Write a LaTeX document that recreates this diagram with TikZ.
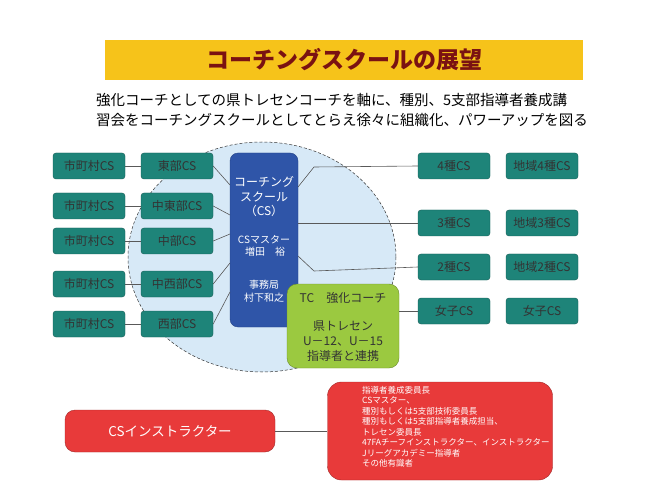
\documentclass[tikz,border=0pt]{standalone}
\usepackage{fontspec}
\setmainfont{Noto Sans CJK JP}
\definecolor{teal1}{HTML}{1E8479}
\definecolor{blue1}{HTML}{2F55A8}
\definecolor{green1}{HTML}{9BC940}
\definecolor{red1}{HTML}{E83A3A}
\definecolor{yel}{HTML}{F6C31A}
\definecolor{circ}{HTML}{D7E9F7}
\definecolor{ttl}{HTML}{7A1212}
\definecolor{txt}{HTML}{333333}
\begin{document}
\begin{tikzpicture}[x=1pt,y=-1pt,
 tb/.style={draw=teal1!70!black,fill=teal1,rounded corners=3pt,minimum width=72pt,minimum height=26pt,inner sep=0pt,font=\fontsize{12}{14}\selectfont,text=txt},
 ln/.style={draw=gray!70!black,line width=0.6pt}]
\useasboundingbox (0,0) rectangle (658,494);
\fill[white] (0,0) rectangle (658,494);
\node[fill=yel,minimum width=478pt,minimum height=40pt,inner sep=0pt,text=ttl,font=\fontsize{23}{26}\selectfont\bfseries] (title) at (344,60) {コーチングスクールの展望};
\node[align=left,font=\fontsize{14.5}{20}\selectfont,text=black,inner sep=0pt] (sub) at (342,110) {強化コーチとしての県トレセンコーチを軸に、種別、5支部指導者養成講\\習会をコーチングスクールとしてとらえ徐々に組織化、パワーアップを図る};
\fill[circ] (262,257) ellipse [x radius=134,y radius=115];
\draw[densely dashed,gray!40!black,line width=0.5pt] (262,257) ellipse [x radius=134,y radius=115];
\foreach \n/\l/\y in {a/東部CS/166,b/中東部CS/206,c/中部CS/241,d/中西部CS/284,e/西部CS/324}{
 \node[tb] (m\n) at (89,\y) {市町村CS};
 \node[tb] (r\n) at (177,\y) {\l};
 \draw[ln] (m\n) -- (r\n);
}
\node[fill=blue1,draw=blue1!80!black,rounded corners=8pt,minimum width=68pt,minimum height=174pt,inner sep=0pt] (cs) at (264,240) {};
\node[text=white,align=center,font=\fontsize{12}{14.5}\selectfont] (cst) at (264,197) {コーチング\\スクール\\（CS）};
\node[text=white,align=center,font=\fontsize{10}{12.5}\selectfont] (csm) at (264,246) {CSマスター\\\ 増田\quad 裕};
\node[text=white,align=center,font=\fontsize{10}{12.5}\selectfont] (csj) at (264,291) {事務局\\村下和之};
\node[fill=green1,draw=green1!70!black,rounded corners=10pt,minimum width=112pt,minimum height=84pt,inner sep=0pt] (tc) at (343,326) {};
\node[text=txt,font=\fontsize{12}{14}\selectfont] (tct) at (343,298) {TC\quad 強化コーチ};
\node[text=txt,align=center,font=\fontsize{12}{15}\selectfont] (tcb) at (343,341) {県トレセン\\U－12、U－15\\指導者と連携};
\foreach \n/\a in {a/185,b/215,c/234,d/263,e/292}{
 \coordinate (c\n) at (230,\a);
 \draw[ln] (r\n.east) -- (c\n);
}
\foreach \n/\l/\m/\y in {4/4種CS/地域4種CS/166,3/3種CS/地域3種CS/223,2/2種CS/地域2種CS/267,w/女子CS/女子CS/311}{
 \node[tb] (s\n) at (454,\y) {\l};
 \node[tb] (t\n) at (542,\y) {\m};
}
\coordinate (k1) at (298,187); \coordinate (k2) at (314,167);
\draw[ln] (k1) -- (k2) -- (s4.west);
\coordinate (k3) at (298,223);
\draw[ln] (k3) -- (s3.west);
\coordinate (k4) at (298,256); \coordinate (k5) at (314,271);
\draw[ln] (k4) -- (k5) -- (s2.west);
\draw[ln] (tc.east |- sw) -- (sw.west);
\node[fill=red1,draw=red1!70!black,rounded corners=10pt,minimum width=210pt,minimum height=42pt,text=white,font=\fontsize{13.5}{16}\selectfont] (ins) at (170,431) {CSインストラクター};
\node[fill=red1,draw=red1!70!black,rounded corners=14pt,minimum width=225pt,minimum height=98pt,inner sep=0pt] (lst) at (440,431) {};
\node[text=white,align=left,anchor=north west,inner sep=0pt,font=\fontsize{8.5}{10.5}\selectfont] (lstt) at (362,386) {指導者養成委員長\\CSマスター、\\種別もしくは5支部技術委員長\\種別もしくは5支部指導者養成担当、\\トレセン委員長\\47FAチーフインストラクター、インストラクター\\Jリーグアカデミー指導者\\その他有識者};
\draw[ln] (ins) -- (lst);
\end{tikzpicture}
\end{document}
